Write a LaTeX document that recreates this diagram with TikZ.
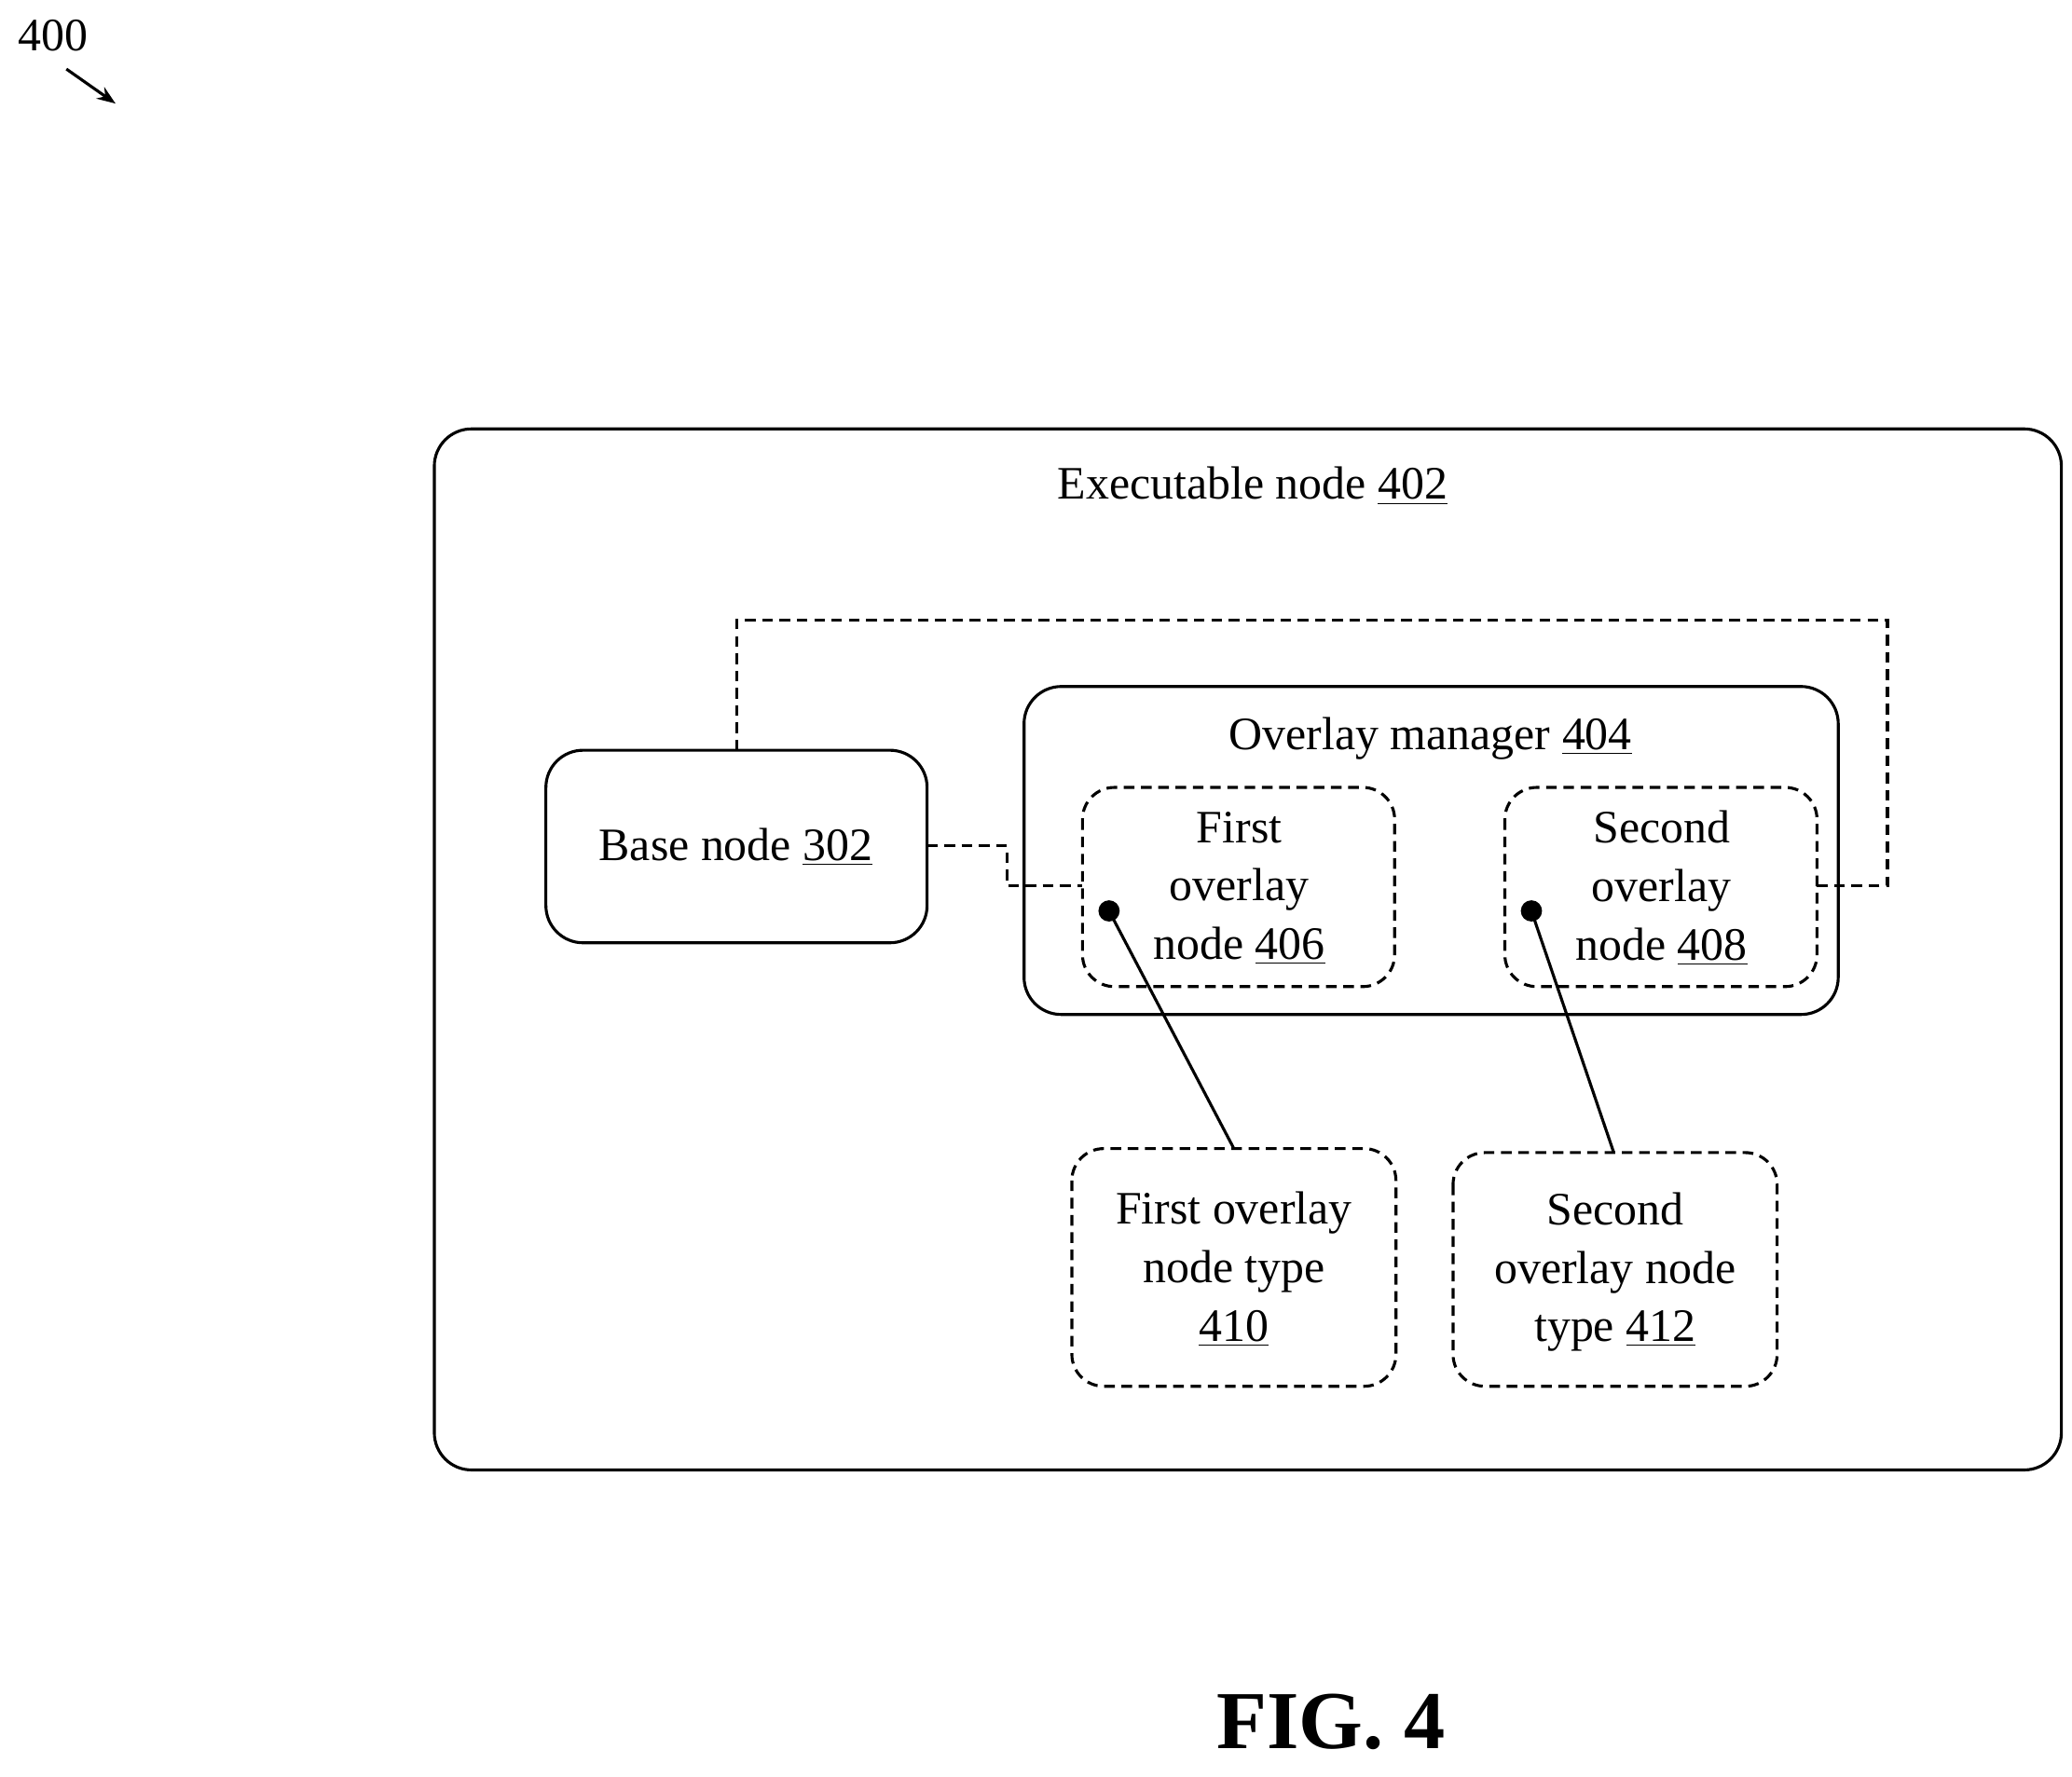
\documentclass[tikz,border=0pt]{standalone}
\usepackage{fontspec}
\setmainfont{Liberation Serif}
\usetikzlibrary{arrows.meta}
\begin{document}
\begin{tikzpicture}[x=0.5pt,y=-0.5pt,line width=1.1pt,
  box/.style={draw,rounded corners=14pt},
  dbox/.style={draw,dash pattern=on 4pt off 2.5pt,rounded corners=12pt},
  lbl/.style={font=\fontsize{17.5}{21}\selectfont,align=center,inner sep=0pt},
  dsh/.style={dash pattern=on 4pt off 2.5pt},
  dot/.style={circle,fill,inner sep=0pt,minimum size=8pt}]
\useasboundingbox (0,0) rectangle (1560,1337.6);
\node[lbl] (n400) at (40,27) {400};
\draw[-{Stealth[length=7pt]}] (50,52) -- (87,78);
\draw[box] (327,323) rectangle (1552,1107);
\node[lbl] (t402) at (943,366) {Executable node \underline{402}};
\draw[box] (411,565) rectangle (698,710);
\node[lbl] (t302) at (554,638) {Base node \underline{302}};
\draw[box] (771,517) rectangle (1384,764);
\node[lbl] (t404) at (1077,556) {Overlay manager \underline{404}};
\draw[dbox] (815,593) rectangle (1050,743);
\node[lbl] (t406) at (933,669) {First\\[1pt]overlay\\[1pt]node \underline{406}};
\draw[dbox] (1133,593) rectangle (1368,743);
\node[lbl] (t408) at (1251,669) {Second\\[1pt]overlay\\[1pt]node \underline{408}};
\draw[dbox] (807,865) rectangle (1051,1044);
\node[lbl] (t410) at (929,956) {First overlay\\[1pt]node type\\[1pt]\underline{410}};
\draw[dbox] (1094,868) rectangle (1338,1044);
\node[lbl] (t412) at (1216,958) {Second\\[1pt]overlay node\\[1pt]type \underline{412}};
\node[dot] (d1) at (835,686) {};
\node[dot] (d2) at (1153,686) {};
\coordinate (e1) at (929,865);
\coordinate (e2) at (1215,868);
\draw (d1.center) -- (e1);
\draw (d2.center) -- (e2);
\draw[dsh] (698,637) -- (758,637) -- (758,667) -- (815,667);
\draw[dsh] (555,565) -- (555,467) -- (1421,467) -- (1421,667) -- (1368,667);
\node[font=\bfseries\fontsize{31}{36}\selectfont,inner sep=0pt] (fig) at (1002,1297) {FIG. 4};
\end{tikzpicture}
\end{document}
